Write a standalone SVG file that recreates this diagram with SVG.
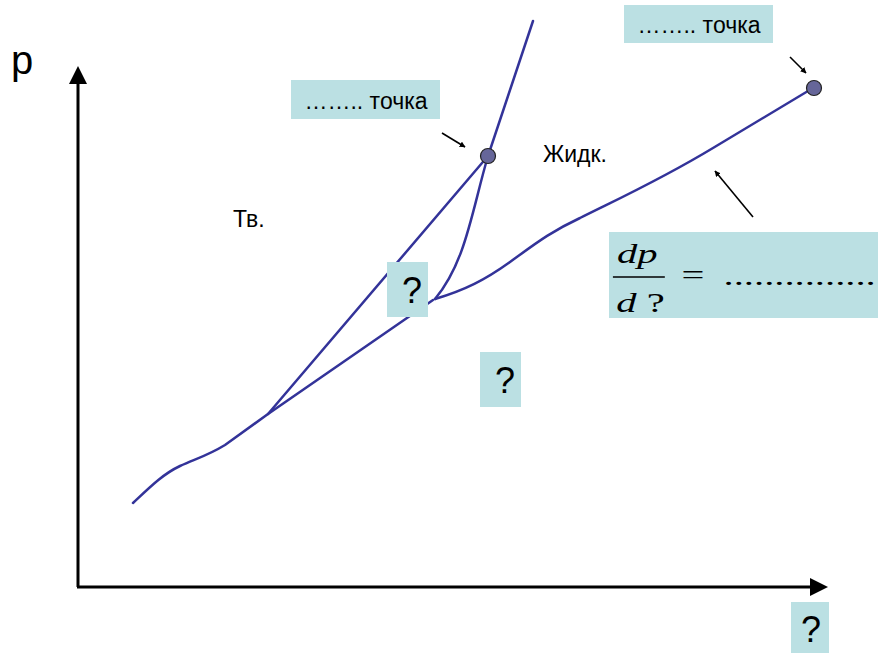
<svg xmlns="http://www.w3.org/2000/svg" width="878" height="653" viewBox="0 0 878 653">
<style>
.box{fill:#bbe0e3}
.curve{fill:none;stroke:#333399;stroke-width:2.5;stroke-linejoin:round;stroke-linecap:round}
.pt{fill:#666699;stroke:#222;stroke-width:1.2}
.lbl{font-family:"Liberation Sans",Arial,sans-serif;fill:#000}
.ptr{stroke:#000;stroke-width:1.6;fill:none}
.mth{font-family:"Liberation Serif","Times New Roman",serif;fill:#000;font-size:28px}
</style>
<defs>
<marker id="ah" viewBox="0 0 10 10" refX="9" refY="5" markerWidth="6" markerHeight="6" orient="auto" markerUnits="userSpaceOnUse">
<path d="M0,0 L10,5 L0,10 z" fill="#000"/>
</marker>
</defs>
<rect width="878" height="653" fill="#fff"/>
<g id="axes">
<line x1="78" y1="587" x2="78" y2="82" stroke="#000" stroke-width="3"/>
<polygon points="78,66 69,84 87,84" fill="#000"/>
<line x1="77" y1="587" x2="811" y2="587" stroke="#000" stroke-width="3"/>
<polygon points="828,587 810,578 810,596" fill="#000"/>
<text class="lbl" x="11" y="74" font-size="40">p</text>
</g>
<g id="connectors">
<path class="curve" d="M133,503 C150,487 163,474 180,466 C195,459 207,456 225,445 L268,414 L433,300"/>
<path class="curve" d="M268,414 L488,156 L533,21"/>
<path class="curve" d="M488,156 C472,210 466,262 435,299"/>
<path class="curve" d="M435,299 C465,290 485,280 510,262 C535,244 550,232 580,218 C620,198 660,180 713,148 L813,88"/>
<line class="ptr" x1="442" y1="133" x2="465" y2="147" marker-end="url(#ah)"/>
<line class="ptr" x1="790" y1="57" x2="806" y2="73" marker-end="url(#ah)"/>
<line class="ptr" x1="753" y1="217" x2="715" y2="171" marker-end="url(#ah)"/>
</g>
<g id="triple-point"><circle class="pt" cx="488" cy="156" r="7.5"/></g>
<g id="critical-point"><circle class="pt" cx="814" cy="88" r="7.5"/></g>
<g id="label-solid"><text class="lbl" x="233" y="227" font-size="23">Тв.</text></g>
<g id="label-liquid"><text class="lbl" x="543" y="162" font-size="23">Жидк.</text></g>
<g id="box-critical">
<rect class="box" x="624" y="5" width="149" height="38"/>
<text class="lbl" x="699" y="33" font-size="23" text-anchor="middle">…….. точка</text>
</g>
<g id="box-triple">
<rect class="box" x="291" y="80" width="149" height="39"/>
<text class="lbl" x="366" y="109" font-size="23" text-anchor="middle">…….. точка</text>
</g>
<g id="box-q1">
<rect class="box" x="387" y="262" width="41" height="55"/>
<text class="lbl" x="412" y="303" font-size="36" text-anchor="middle">?</text>
</g>
<g id="box-q2">
<rect class="box" x="480" y="352" width="41" height="55"/>
<text class="lbl" x="505" y="393" font-size="36" text-anchor="middle">?</text>
</g>
<g id="box-q3">
<rect class="box" x="791" y="602" width="38" height="51"/>
<text class="lbl" x="811" y="642" font-size="36" text-anchor="middle">?</text>
</g>
<g id="box-formula">
<rect class="box" x="609" y="232" width="269" height="86"/>
<g transform="translate(609,0) scale(1.45,1)">
<text class="mth" x="5.5" y="263" font-style="italic">dp</text>
<line x1="2.7" y1="277" x2="38.5" y2="277" stroke="#000" stroke-width="1.6"/>
<text class="mth" x="5" y="312"><tspan font-style="italic">d</tspan> ?</text>
<text class="mth" x="50" y="284">=</text>
<text class="mth" x="79" y="285" font-size="29">...............</text>
</g>
</g>
</svg>
